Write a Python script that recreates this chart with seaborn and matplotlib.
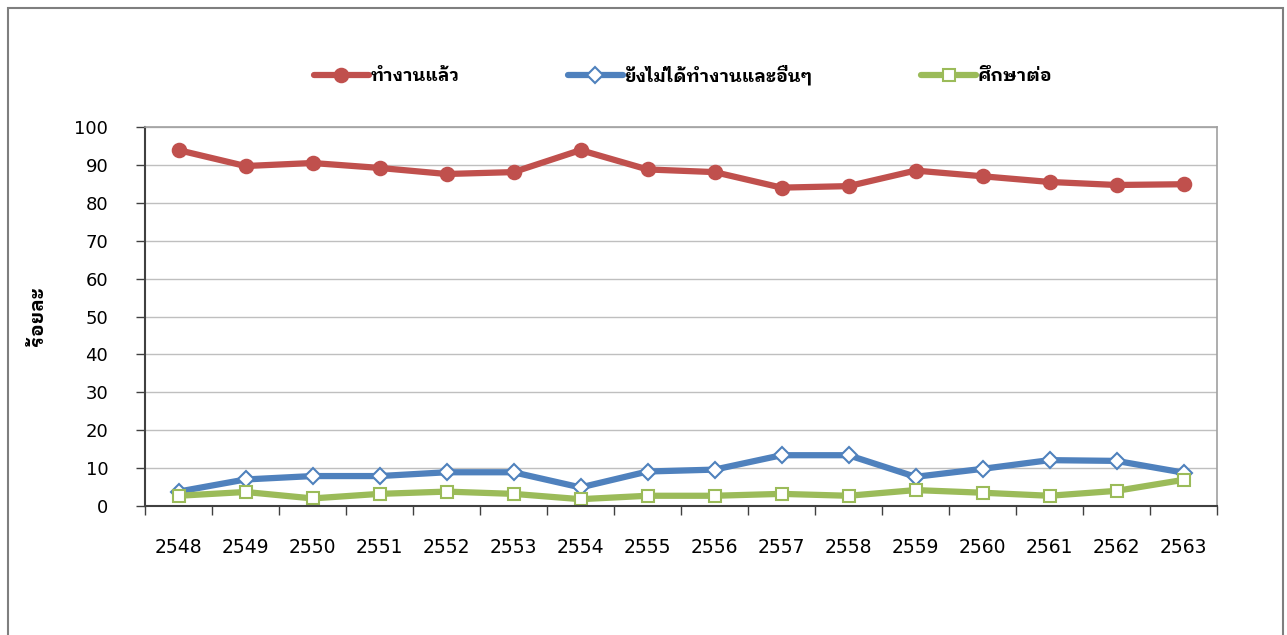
import matplotlib
matplotlib.use("Agg")
import matplotlib.pyplot as plt
import matplotlib.patches as mpatches
from matplotlib import font_manager as fm
import seaborn as sns
import numpy as np

years = ["2548", "2549", "2550", "2551", "2552", "2553", "2554", "2555",
         "2556", "2557", "2558", "2559", "2560", "2561", "2562", "2563"]
employed = [93.9, 89.7, 90.5, 89.2, 87.6, 88.1, 93.9, 88.8,
            88.1, 84.0, 84.4, 88.5, 87.0, 85.5, 84.7, 84.9]
unemployed = [3.8, 7.0, 7.9, 7.9, 8.9, 8.9, 4.9, 9.1,
              9.6, 13.4, 13.4, 7.7, 9.8, 12.1, 11.9, 8.8]
studying = [2.7, 3.7, 2.0, 3.2, 3.8, 3.2, 1.8, 2.7,
            2.7, 3.2, 2.7, 4.2, 3.5, 2.7, 4.0, 6.9]
series_names = ["ทำงานแล้ว", "ยังไม่ได้ทำงานและอื่นๆ", "ศึกษาต่อ"]
y_label = "ร้อยละ"

sns.set_theme(style="white")
available = {f.name for f in fm.fontManager.ttflist}
thai_candidates = ["IBM Plex Sans Thai Looped", "Noto Sans Thai Looped", "Noto Sans Thai", "Sarabun"]
thai = [f for f in thai_candidates if f in available][:1]
plt.rcParams['font.family'] = ['DejaVu Sans'] + thai
plt.rcParams['text.color'] = 'black'
plt.rcParams['xtick.color'] = 'black'
plt.rcParams['ytick.color'] = 'black'

fig = plt.figure(figsize=(12.87, 6.35), dpi=100)
ax = fig.add_axes([145/1287, 1 - 506/635, (1217-145)/1287, (506-127)/635])

x = np.arange(len(years))
styles = [
    dict(color="#C0504D", marker="o", markersize=10, markerfacecolor="#C0504D",
         markeredgecolor="#C0504D", markeredgewidth=1.2),
    dict(color="#4F81BD", marker="D", markersize=8, markerfacecolor="white",
         markeredgecolor="#4F81BD", markeredgewidth=1.5),
    dict(color="#9BBB59", marker="s", markersize=8, markerfacecolor="white",
         markeredgecolor="#9BBB59", markeredgewidth=1.5),
]
for vals, name, st in zip([employed, unemployed, studying], series_names, styles):
    sns.lineplot(x=x, y=vals, ax=ax, label=name, linewidth=4.5, **st)

ax.set_xlim(-0.5, len(years) - 0.5)
ax.set_ylim(0, 100)
ax.set_yticks(np.arange(0, 101, 10))
ax.set_yticklabels([str(v) for v in range(0, 101, 10)], fontsize=13)
ax.set_xticks(x)
ax.set_xticklabels(years, fontsize=13.5)
ax.set_xticks(np.arange(-0.5, len(years), 1), minor=True)
ax.tick_params(axis='x', which='major', length=0, pad=23)
ax.tick_params(axis='x', which='minor', length=6.5, width=1, color="#404040", direction='out', bottom=True)
ax.tick_params(axis='y', which='major', length=6.5, width=1, color="#404040", direction='out', left=True, pad=20)
ax.yaxis.grid(True, color="#BFBFBF", linewidth=1)
ax.xaxis.grid(False)
ax.set_axisbelow(True)
for s in ['left', 'bottom']:
    ax.spines[s].set_color("#404040")
    ax.spines[s].set_linewidth(1.5)
for s in ['top', 'right']:
    ax.spines[s].set_color("#A0A0A0")
    ax.spines[s].set_linewidth(1.2)

fig.text(38/1287, 1 - 316/635, y_label, rotation=90, fontsize=14, fontweight='bold',
         ha='center', va='center')

ax.legend_.remove()
handles, labels = ax.get_legend_handles_labels()
leg = fig.legend(handles, labels, loc='center', bbox_to_anchor=(683/1287, 1 - 75/635),
                 ncol=3, frameon=False, handlelength=3.05, handletextpad=0.1,
                 columnspacing=6.0, prop={'size': 13, 'weight': 'bold'})

frame = mpatches.Rectangle((8/1287, -0.1), (1283-8)/1287, (1 - 8/635) + 0.1,
                           transform=fig.transFigure, fill=False, edgecolor="#7F7F7F",
                           linewidth=1.5, clip_on=False)
fig.patches.append(frame)

fig.savefig("out.png", dpi=100)
